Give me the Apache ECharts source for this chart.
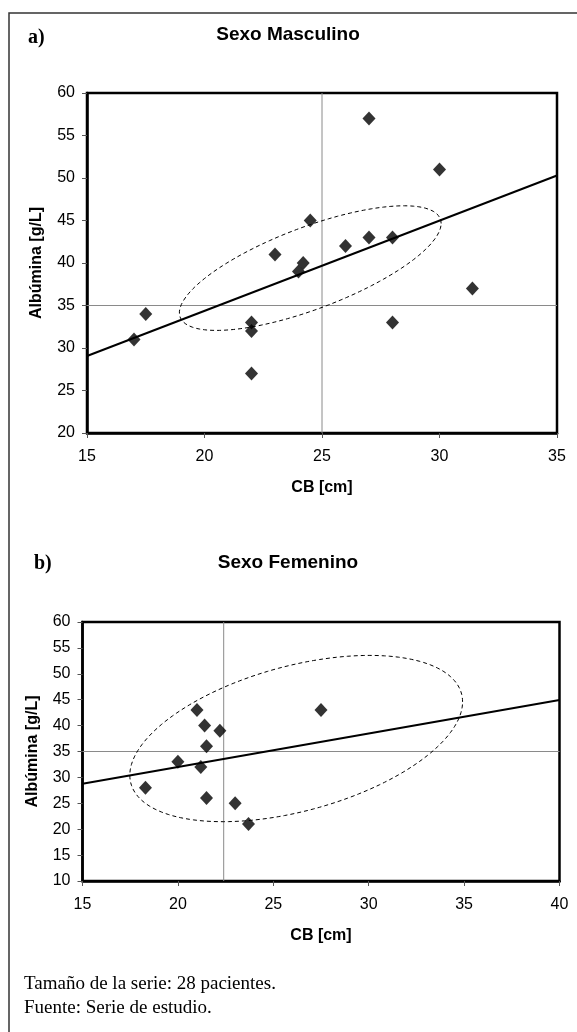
<!DOCTYPE html>
<html><head><meta charset="utf-8">
<script src="https://cdn.jsdelivr.net/npm/echarts@6/dist/echarts.min.js"></script>
<style>html,body{margin:0;padding:0;background:#fff}#c{width:577px;height:1032px}</style>
</head><body><div id="c"></div>
<script>
// ---- Data ----
const maleCB  = [17, 17.5, 22, 22, 22, 23, 24, 24.2, 24.5, 26, 27, 27, 28, 28, 30, 31.4];
const maleAlb = [31, 34,   33, 32, 27, 41, 39, 40,   45,   42, 43, 57, 43, 33, 51, 37];
const femaleCB  = [18.3, 20, 21, 21.2, 21.4, 21.5, 21.5, 22.2, 23, 23.7, 27.5];
const femaleAlb = [28,   33, 43, 32,   40,   36,   26,   39,   25, 21,   43];
const maleRef = [25, 35];        // reference CB, reference albumin
const femaleRef = [22.4, 35];
// ellipse: centre CB, centre Alb, half-width (CB), half-height (Alb), Alb offset at CB extremes
const maleEllipse = [24.5, 39.4, 5.57, 7.33, 5.25];
const femaleEllipse = [26.2, 37.5, 8.72, 16.05, 7.08];
const maleXTicks = [15, 20, 25, 30, 35];
const maleYTicks = [20, 25, 30, 35, 40, 45, 50, 55, 60];
const femaleXTicks = [15, 20, 25, 30, 35, 40];
const femaleYTicks = [10, 15, 20, 25, 30, 35, 40, 45, 50, 55, 60];
const titles = ['Sexo Masculino', 'Sexo Femenino'];
const panelTags = ['a)', 'b)'];
const xName = 'CB [cm]';
const yName = 'Albúmina [g/L]';
const notes = ['Tamaño de la serie: 28 pacientes.', 'Fuente: Serie de estudio.'];

// ---- helpers ----
function regression(xs, ys, x0, x1) {
  const n = xs.length;
  const mx = xs.reduce((a, b) => a + b, 0) / n;
  const my = ys.reduce((a, b) => a + b, 0) / n;
  let sxy = 0, sxx = 0;
  for (let i = 0; i < n; i++) { sxy += (xs[i] - mx) * (ys[i] - my); sxx += (xs[i] - mx) ** 2; }
  const b = sxy / sxx, a = my - b * mx;
  return [[x0, a + b * x0], [x1, a + b * x1]];
}
function ellipsePts(e) {
  const [cx, cy, A, H, B] = e;
  const D = Math.sqrt(H * H - B * B);
  const pts = [];
  for (let i = 0; i <= 180; i++) {
    const t = i / 180 * 2 * Math.PI;
    pts.push([cx + A * Math.cos(t), cy + B * Math.cos(t) + D * Math.sin(t)]);
  }
  return pts;
}
const SANS = 'Liberation Sans';
const SERIF = 'Liberation Serif';

function axes(idx, xt, yt) {
  const common = {
    gridIndex: idx, type: 'value',
    axisLine: { show: true, lineStyle: { color: '#000', width: 2.5 } },
    axisTick: { show: true, inside: false, length: 5, lineStyle: { color: '#555', width: 1 } },
    splitLine: { show: false },
    nameLocation: 'middle',
    nameTextStyle: { fontFamily: SANS, fontWeight: 'bold', fontSize: 16, color: '#000' }
  };
  const x = Object.assign({}, common, {
    min: xt[0], max: xt[xt.length - 1], interval: xt[1] - xt[0],
    name: xName, nameGap: 47,
    axisLabel: { margin: 16, fontFamily: SANS, fontSize: 16, color: '#000' }
  });
  const y = Object.assign({}, common, {
    min: yt[0], max: yt[yt.length - 1], interval: yt[1] - yt[0],
    name: yName, nameGap: 42,
    axisLabel: { margin: 12, fontFamily: SANS, fontSize: 16, color: '#000' }
  });
  return [x, y];
}

function seriesFor(idx, xs, ys, ref, ell, xt, yt) {
  const x0 = xt[0], x1 = xt[xt.length - 1], y0 = yt[0], y1 = yt[yt.length - 1];
  const base = { xAxisIndex: idx, yAxisIndex: idx, symbol: 'none', silent: true, animation: false };
  return [
    Object.assign({}, base, { type: 'line', data: [[ref[0], y0], [ref[0], y1]], lineStyle: { color: '#8a8a8a', width: 1 }, z: 1 }),
    Object.assign({}, base, { type: 'line', data: [[x0, ref[1]], [x1, ref[1]]], lineStyle: { color: '#8a8a8a', width: 1 }, z: 1 }),
    Object.assign({}, base, { type: 'line', data: ellipsePts(ell), lineStyle: { color: '#000', width: 1, type: [4, 3] }, z: 2 }),
    Object.assign({}, base, { type: 'line', data: regression(xs, ys, x0, x1), lineStyle: { color: '#000', width: 2 }, z: 3 }),
    { type: 'scatter', xAxisIndex: idx, yAxisIndex: idx, symbol: 'diamond', symbolSize: [13, 14],
      itemStyle: { color: '#000' }, data: xs.map((v, i) => [v, ys[i]]), z: 4, animation: false }
  ];
}

const [ax0, ay0] = axes(0, maleXTicks, maleYTicks);
const [ax1, ay1] = axes(1, femaleXTicks, femaleYTicks);

const chart = echarts.init(document.getElementById('c'), null, { renderer: 'canvas' });
chart.setOption({
  animation: false,
  backgroundColor: '#fff',
  grid: [
    { left: 87, top: 93, width: 470, height: 340, show: true, borderColor: '#000', borderWidth: 2.5, outerBoundsMode: 'none', containLabel: false },
    { left: 82.5, top: 622, width: 477, height: 259, show: true, borderColor: '#000', borderWidth: 2.5, outerBoundsMode: 'none', containLabel: false }
  ],
  xAxis: [ax0, ax1],
  yAxis: [ay0, ay1],
  series: [].concat(
    seriesFor(0, maleCB, maleAlb, maleRef, maleEllipse, maleXTicks, maleYTicks),
    seriesFor(1, femaleCB, femaleAlb, femaleRef, femaleEllipse, femaleXTicks, femaleYTicks)
  ),
  graphic: [
    { type: 'rect', shape: { x: 9, y: 13, width: 700, height: 1100 }, style: { fill: 'none', stroke: '#333', lineWidth: 1.5 }, silent: true },
    { type: 'text', x: 28, y: 38, style: { text: panelTags[0], font: 'bold 20px ' + SERIF, fill: '#000', textVerticalAlign: 'middle' } },
    { type: 'text', x: 288, y: 35, style: { text: titles[0], font: 'bold 19px ' + SANS, fill: '#000', textAlign: 'center', textVerticalAlign: 'middle' } },
    { type: 'text', x: 34, y: 564, style: { text: panelTags[1], font: 'bold 20px ' + SERIF, fill: '#000', textVerticalAlign: 'middle' } },
    { type: 'text', x: 288, y: 563, style: { text: titles[1], font: 'bold 19px ' + SANS, fill: '#000', textAlign: 'center', textVerticalAlign: 'middle' } },
    { type: 'text', x: 24, y: 984, style: { text: notes[0], font: '19px ' + SERIF, fill: '#000', textVerticalAlign: 'middle' } },
    { type: 'text', x: 24, y: 1008, style: { text: notes[1], font: '19px ' + SERIF, fill: '#000', textVerticalAlign: 'middle' } }
  ]
});
</script></body></html>
